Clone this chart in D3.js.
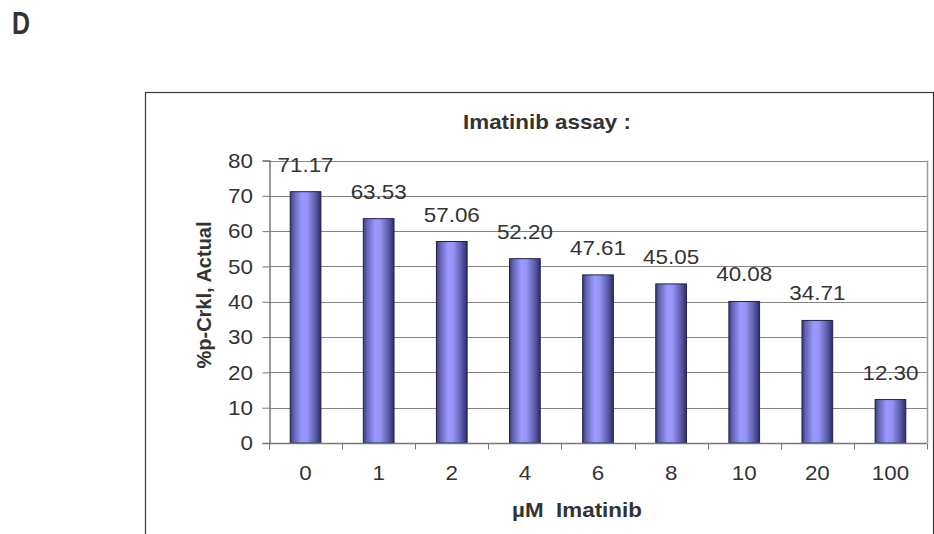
<!DOCTYPE html>
<html>
<head>
<meta charset="utf-8">
<script src="https://cdn.jsdelivr.net/npm/d3@7"></script>
<style>
  html, body { margin: 0; padding: 0; background: #fff; }
  svg { display: block; }
  text { font-family: "Liberation Sans", Arial, sans-serif; fill: #333; white-space: pre; }
</style>
</head>
<body>
<svg id="chart" width="934" height="534"></svg>
<script>
// Imatinib dose response: % phospho-Crkl per concentration
const categories = ["0", "1", "2", "4", "6", "8", "10", "20", "100"];
const values = [71.17, 63.53, 57.06, 52.20, 47.61, 45.05, 40.08, 34.71, 12.30];
const yTicks = [0, 10, 20, 30, 40, 50, 60, 70, 80];
const panelLabel = "D";
const chartTitle = "Imatinib assay :";
const xTitle = "µM  Imatinib";
const yTitle = "%p-Crkl, Actual";

const FONT = 20;      // chart text size
const WIDEN = 1.12;   // the chart's lettering is set slightly wide

const svg = d3.select("#chart");

// place a text element at (x, y), widened horizontally around its anchor
function placeText(sel, x, y, extra = "") {
  return sel.attr("x", 0).attr("y", 0)
    .attr("transform", `translate(${x},${y}) ${extra} scale(${WIDEN},1)`);
}

// panel letter
svg.append("text")
  .attr("font-size", 32).attr("font-weight", "bold")
  .attr("transform", "translate(12,34) scale(0.78,1)")
  .text(panelLabel);

// chart area frame (runs past the right and bottom edges)
svg.append("rect")
  .attr("x", 145.5).attr("y", 92.5)
  .attr("width", 788).attr("height", 500)
  .attr("fill", "none").attr("stroke", "#3a3a3a").attr("stroke-width", 1.2);

const plot = { left: 269, right: 927, top: 160.5, bottom: 443 };

const x = d3.scaleBand()
  .domain(categories)
  .range([plot.left, plot.right])
  .paddingInner(0.58).paddingOuter(0.29);

const xTickScale = d3.scaleBand().domain(categories).range([plot.left, plot.right]);

const y = d3.scaleLinear().domain([0, 80]).range([plot.bottom, plot.top]);

// horizontal shading for the bars
const defs = svg.append("defs");
const grad = defs.append("linearGradient").attr("id", "barGrad")
  .attr("x1", "0%").attr("x2", "100%").attr("y1", "0%").attr("y2", "0%");
[[0, "#3a3a7a"], [0.12, "#6464b4"], [0.38, "#9a9aff"], [0.55, "#9494f4"], [0.8, "#6060b0"], [1, "#2e2e66"]]
  .forEach(([o, c]) => grad.append("stop").attr("offset", o).attr("stop-color", c));

// gridlines
svg.append("g")
  .selectAll("line")
  .data(yTicks.filter(t => t > 0))
  .join("line")
  .attr("x1", plot.left).attr("x2", plot.right)
  .attr("y1", d => Math.round(y(d)) + 0.5).attr("y2", d => Math.round(y(d)) + 0.5)
  .attr("stroke", "#8a8080").attr("stroke-width", 1);

// plot area border (right side)
svg.append("line")
  .attr("x1", plot.right + 0.5).attr("x2", plot.right + 0.5)
  .attr("y1", plot.top).attr("y2", plot.bottom)
  .attr("stroke", "#a09898").attr("stroke-width", 1.5);

// bars
svg.append("g")
  .selectAll("rect")
  .data(values)
  .join("rect")
  .attr("x", (d, i) => x(categories[i]))
  .attr("width", x.bandwidth())
  .attr("y", d => y(d))
  .attr("height", d => plot.bottom - y(d))
  .attr("fill", "url(#barGrad)")
  .attr("stroke", "#22224e").attr("stroke-width", 1);

// value labels
svg.append("g")
  .selectAll("text")
  .data(values)
  .join("text")
  .attr("text-anchor", "middle")
  .attr("font-size", FONT)
  .text(d => d.toFixed(2))
  .each(function (d, i) {
    placeText(d3.select(this), x(categories[i]) + x.bandwidth() / 2, y(d) - 20);
  });

// y axis line and ticks
const yAxis = d3.axisLeft(y).tickValues(yTicks).tickSize(7).tickFormat("");
const gy = svg.append("g").attr("transform", `translate(${plot.left + 0.5},0)`).call(yAxis);
gy.select(".domain").attr("stroke", "#777").attr("stroke-width", 1.5);
gy.selectAll(".tick line").attr("stroke", "#777");

// y tick labels
svg.append("g")
  .selectAll("text")
  .data(yTicks)
  .join("text")
  .attr("text-anchor", "end")
  .attr("font-size", FONT)
  .attr("dy", "0.36em")
  .text(d => d)
  .each(function (d) { placeText(d3.select(this), 253, y(d)); });

// x axis: ticks sit on category boundaries
const gx = svg.append("g").attr("transform", `translate(0,${plot.bottom + 0.5})`);
gx.append("line")
  .attr("x1", plot.left).attr("x2", plot.right)
  .attr("stroke", "#777").attr("stroke-width", 1.5);
const boundaries = categories.map(c => xTickScale(c)).concat([plot.right]);
gx.selectAll("line.tk")
  .data(boundaries)
  .join("line").attr("class", "tk")
  .attr("x1", d => Math.round(d) + 0.5).attr("x2", d => Math.round(d) + 0.5)
  .attr("y1", 0).attr("y2", 6)
  .attr("stroke", "#777");

svg.append("g")
  .selectAll("text")
  .data(categories)
  .join("text")
  .attr("text-anchor", "middle")
  .attr("font-size", FONT)
  .text(c => c)
  .each(function (c) {
    placeText(d3.select(this), xTickScale(c) + xTickScale.bandwidth() / 2, 480);
  });

// titles
placeText(svg.append("text")
  .attr("text-anchor", "middle")
  .attr("font-size", FONT).attr("font-weight", "bold")
  .text(chartTitle), 547, 129);

placeText(svg.append("text")
  .attr("text-anchor", "middle")
  .attr("font-size", FONT).attr("font-weight", "bold")
  .text(xTitle), 577, 517);

svg.append("text")
  .attr("transform", `translate(211,295) rotate(-90)`)
  .attr("text-anchor", "middle")
  .attr("font-size", FONT).attr("font-weight", "bold")
  .text(yTitle);
</script>
</body>
</html>
